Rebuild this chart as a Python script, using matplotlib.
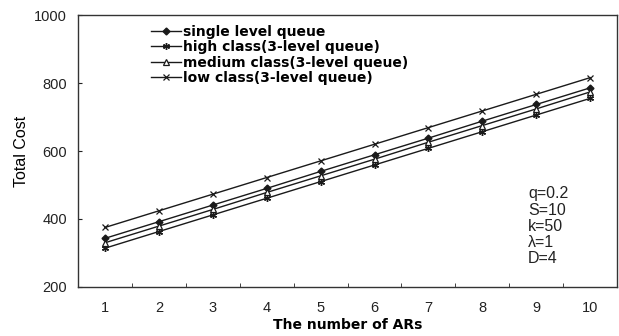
import matplotlib
matplotlib.use('Agg')
import matplotlib.pyplot as plt

# Data
n_ars = [1, 2, 3, 4, 5, 6, 7, 8, 9, 10]
single_level = [343, 392, 441, 490, 540, 589, 638, 688, 737, 786]
high_class = [314, 363, 412, 461, 510, 559, 608, 657, 706, 755]
medium_class = [330, 379, 428, 478, 527, 576, 626, 675, 724, 774]
low_class = [375, 424, 473, 522, 571, 620, 669, 718, 767, 816]

labels = ['single level queue', 'high class(3-level queue)',
          'medium class(3-level queue)', 'low class(3-level queue)']
params = ['q=0.2', 'S=10', 'k=50', '\u03bb=1', 'D=4']

plt.rcParams['font.family'] = ['Liberation Sans', 'DejaVu Sans']

fig = plt.figure(figsize=(6.19, 3.36), dpi=100)
ax = fig.add_axes([0.126, 0.146, 0.871, 0.809])

c = '#1a1a1a'
ax.plot(n_ars, single_level, color=c, lw=1.0, marker='D', ms=3.5,
        mfc=c, mec=c, label=labels[0])
ax.plot(n_ars, high_class, color=c, lw=1.0, marker=(6, 2, 0), ms=5,
        mec=c, mew=1.0, label=labels[1])
ax.plot(n_ars, medium_class, color=c, lw=1.0, marker='^', ms=4,
        mfc='white', mec=c, mew=0.9, label=labels[2])
ax.plot(n_ars, low_class, color=c, lw=1.0, marker='x', ms=4.5,
        mec=c, mew=0.9, label=labels[3])

ax.set_xlim(0.5, 10.5)
ax.set_ylim(200, 1000)
ax.set_xticks(n_ars)
ax.xaxis.set_minor_locator(plt.FixedLocator([x + 0.5 for x in n_ars[:-1]]))
ax.set_yticks([200, 400, 600, 800, 1000])
ax.tick_params(axis='both', which='both', direction='in', labelsize=10.5,
               colors='#222222', length=3, pad=8)
ax.tick_params(axis='x', which='major', length=0, pad=10)
ax.tick_params(axis='y', which='major', pad=8)
for s in ax.spines.values():
    s.set_color('#333333')
    s.set_linewidth(1.0)

ax.set_xlabel('The number of ARs', fontsize=10, fontweight='bold', labelpad=2,
              family='DejaVu Sans')
ax.set_ylabel('Total Cost', fontsize=11.5)
ax.yaxis.set_label_coords(-0.09, 0.5)

leg = ax.legend(loc='upper left', bbox_to_anchor=(0.118, 1.0), frameon=False,
                prop={'family': 'DejaVu Sans', 'weight': 'bold', 'size': 10},
                handlelength=2.1, handletextpad=0.15,
                labelspacing=0.1, borderaxespad=0.3)

ax.text(0.835, 0.37, '\n'.join(params), transform=ax.transAxes,
        fontsize=11.5, va='top', ha='left', linespacing=1.1, color='#222222')

plt.savefig('out.png', dpi=100)
plt.close()
